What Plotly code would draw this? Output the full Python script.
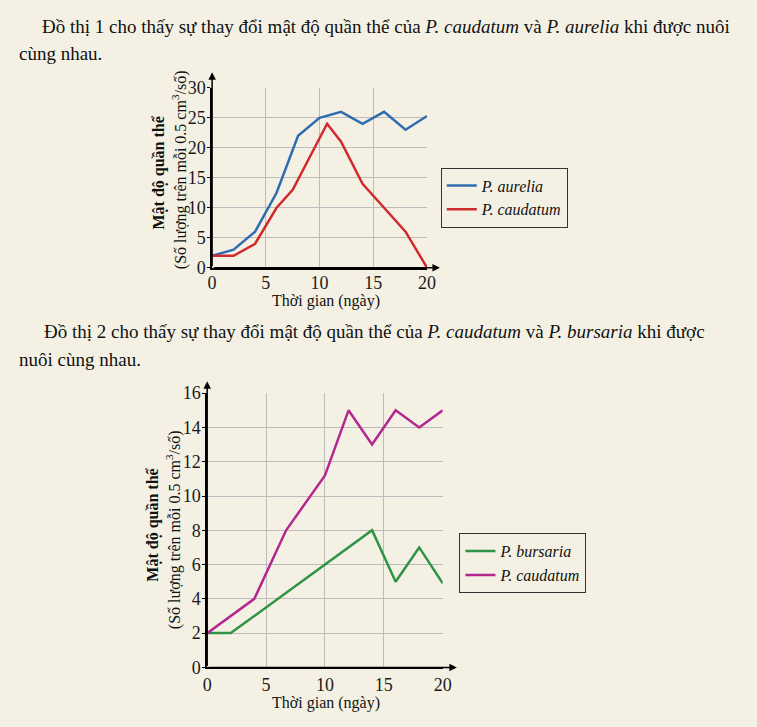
import plotly.graph_objects as go

W, H = 757, 727
BG = "#f4f1e4"
FONT = "'Liberation Serif', 'Times New Roman', serif"

# chart 1: P. aurelia vs P. caudatum
days_aurelia = [0, 2, 4, 6, 8, 10, 12, 14, 16, 18, 20]
aurelia = [2, 3, 6, 12.5, 22, 25, 26, 24, 26, 23, 25.3]
days_caud1 = [0, 2, 4, 6, 7.5, 10.7, 12, 14, 16, 18, 20]
caudatum1 = [2, 2, 4, 10, 13, 24, 21, 14, 10, 6, 0]

# chart 2: P. bursaria vs P. caudatum
days_bursaria = [0, 2, 14, 16, 18, 20]
bursaria = [2, 2, 8, 5, 7, 4.9]
days_caud2 = [0, 4, 6.7, 10, 12, 14, 16, 18, 20]
caudatum2 = [2, 4, 8, 11.2, 15, 13, 15, 14, 15]

x_ticks = [0, 5, 10, 15, 20]
y_ticks1 = [0, 5, 10, 15, 20, 25, 30]
y_ticks2 = [0, 2, 4, 6, 8, 10, 12, 14, 16]

para1 = ["Đồ thị 1 cho thấy sự thay đổi mật độ quần thể của <i>P. caudatum</i> và <i>P. aurelia</i> khi được nuôi",
         "cùng nhau."]
para2 = ["Đồ thị 2 cho thấy sự thay đổi mật độ quần thể của <i>P. caudatum</i> và <i>P. bursaria</i> khi được",
         "nuôi cùng nhau."]


def px_x(p):
    return p / W


def px_y(p):
    return 1 - p / H


fig = go.Figure()

fig.add_trace(go.Scatter(x=days_aurelia, y=aurelia, mode="lines", name="<i>P. aurelia</i>",
                         line=dict(color="#2f6cb0", width=2.5), xaxis="x", yaxis="y",
                         legend="legend", cliponaxis=False))
fig.add_trace(go.Scatter(x=days_caud1, y=caudatum1, mode="lines", name="<i>P. caudatum</i>",
                         line=dict(color="#d02a2e", width=2.5), xaxis="x", yaxis="y",
                         legend="legend", cliponaxis=False))
fig.add_trace(go.Scatter(x=days_bursaria, y=bursaria, mode="lines", name="<i>P. bursaria</i>",
                         line=dict(color="#2e9445", width=2.5), xaxis="x2", yaxis="y2",
                         legend="legend2", cliponaxis=False))
fig.add_trace(go.Scatter(x=days_caud2, y=caudatum2, mode="lines", name="<i>P. caudatum</i>",
                         line=dict(color="#b3288f", width=2.5), xaxis="x2", yaxis="y2",
                         legend="legend2", cliponaxis=False))

base_axis = dict(showline=True, linecolor="black", linewidth=1.5, showgrid=True,
                 gridcolor="#bcbcbc", gridwidth=1, zeroline=False, fixedrange=True,
                 tickfont=dict(family=FONT, size=18, color="#1a1a1a"))
x_style = dict(base_axis, ticks="")
y_style = dict(base_axis, ticks="outside", ticklen=3, tickcolor="black", ticklabelstandoff=-2)

legend_style = dict(bgcolor="rgba(0,0,0,0)", bordercolor="#333", borderwidth=1,
                    font=dict(family=FONT, size=16, color="#111"),
                    xanchor="left", yanchor="top", itemwidth=30, tracegroupgap=0)

fig.update_layout(
    width=W, height=H,
    margin=dict(l=0, r=0, t=0, b=0),
    paper_bgcolor=BG, plot_bgcolor=BG,
    xaxis=dict(x_style, domain=[px_x(211), px_x(430)], range=[0, 20], tickvals=x_ticks, anchor="y",
               ticklabelstandoff=-2),
    yaxis=dict(y_style, domain=[px_y(265), px_y(80)], range=[0, 30], tickvals=y_ticks1, anchor="x"),
    xaxis2=dict(x_style, domain=[px_x(206), px_x(446)], range=[0, 20], tickvals=x_ticks, anchor="y2"),
    yaxis2=dict(y_style, domain=[px_y(676), px_y(394)], range=[0, 16], tickvals=y_ticks2, anchor="x2"),
    legend=dict(legend_style, x=px_x(444), y=px_y(162)),
    legend2=dict(legend_style, x=px_x(463), y=px_y(538)),
    showlegend=True,
)

notes = []
# paragraphs
for text, xp, yp in [(para1[0], 36, 17), (para1[1], 12, 45), (para2[0], 38, 331), (para2[1], 12, 359)]:
    notes.append(dict(text=text, x=px_x(xp), y=px_y(yp), xref="paper", yref="paper",
                      xanchor="left", yanchor="middle", showarrow=False,
                      font=dict(family=FONT, size=19, color="#111")))

# axis titles
for xp, yp in [(327, 299), (327, 713)]:
    notes.append(dict(text="Thời gian (ngày)", x=px_x(xp), y=px_y(yp), xref="paper", yref="paper",
                      xanchor="center", yanchor="middle", showarrow=False,
                      font=dict(family=FONT, size=16, color="#111")))
for xp, yp, bold_x, bold_y in [(178, 164, 157, 167), (172, 534, 151, 529)]:
    notes.append(dict(text="<b>Mật độ quần thể</b>", x=px_x(bold_x), y=px_y(bold_y),
                      xref="paper", yref="paper", textangle=-90, showarrow=False,
                      xanchor="center", yanchor="middle",
                      font=dict(family=FONT, size=16, color="#111")))
    notes.append(dict(text="(Số lượng trên mỗi 0.5 cm<sup>3</sup>/số)", x=px_x(xp), y=px_y(yp),
                      xref="paper", yref="paper", textangle=-90, showarrow=False,
                      xanchor="center", yanchor="middle",
                      font=dict(family=FONT, size=16, color="#111")))

# arrow heads on axes
arrow = dict(showarrow=True, arrowhead=2, arrowsize=1, arrowwidth=1.5, arrowcolor="black", text="")
notes.append(dict(arrow, xref="x", yref="y", axref="x", ayref="y", x=0, y=32.6, ax=0, ay=0))
notes.append(dict(arrow, xref="x", yref="y", axref="x", ayref="y", x=21.2, y=0, ax=0, ay=0))
notes.append(dict(arrow, xref="x2", yref="y2", axref="x2", ayref="y2", x=0, y=16.7, ax=0, ay=0))
notes.append(dict(arrow, xref="x2", yref="y2", axref="x2", ayref="y2", x=21.2, y=0, ax=0, ay=0))

fig.update_layout(annotations=notes)

fig.write_html("out.html", config={"displayModeBar": False},
               post_script="document.body.style.margin='0';document.body.style.background='%s';" % BG)
